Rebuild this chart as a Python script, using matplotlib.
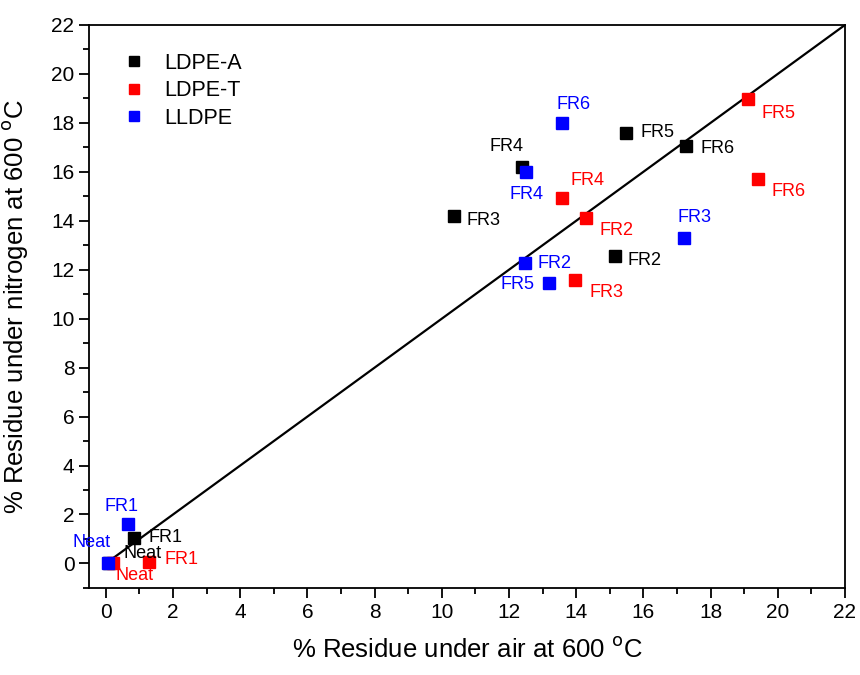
import matplotlib
matplotlib.use("Agg")
import matplotlib.pyplot as plt
from matplotlib.ticker import MultipleLocator

plt.rcParams['font.family'] = ['Liberation Sans', 'DejaVu Sans']

# % residue at 600 C: air (x) vs nitrogen (y)
labels = ["Neat", "FR1", "FR2", "FR3", "FR4", "FR5", "FR6"]

ldpe_a_air = [0.1, 0.85, 15.17, 10.37, 12.39, 15.47, 17.26]
ldpe_a_n2 = [0.0, 1.05, 12.56, 14.2, 16.2, 17.6, 17.07]

ldpe_t_air = [0.2, 1.28, 14.28, 13.97, 13.58, 19.1, 19.41]
ldpe_t_n2 = [0.0, 0.05, 14.1, 11.6, 14.92, 18.97, 15.7]

lldpe_air = [0.07, 0.66, 12.49, 17.2, 12.51, 13.2, 13.58]
lldpe_n2 = [0.0, 1.6, 12.26, 13.28, 16.0, 11.44, 18.01]

# label offsets in points (dx, dy), ha
off_a = [((24, 7), 'center'), ((10, 0), 'left'), ((9, -3), 'left'), ((9, -3), 'left'),
         ((-11, 15), 'center'), ((11, 0), 'left'), ((11, -2), 'left')]
off_t = [((16, -9), 'center'), ((11, 2), 'left'), ((10, -9), 'left'), ((10, -9), 'left'),
         ((18, 13), 'center'), ((10, -10), 'left'), ((10, -9), 'left')]
off_l = [((-12, 15), 'center'), ((-5, 13), 'center'), ((9, 0), 'left'), ((8, 15), 'center'),
         ((0, -16), 'center'), ((-11, -1), 'right'), ((8, 13), 'center')]

fig = plt.figure(figsize=(8.6, 6.75), dpi=100)
ax = fig.add_axes([0.1035, 0.129, 0.879, 0.834])

ax.plot([0, 22], [0, 22], color='black', lw=1.6, zorder=1)

series = [
    ("LDPE-A", ldpe_a_air, ldpe_a_n2, "black", off_a),
    ("LDPE-T", ldpe_t_air, ldpe_t_n2, "red", off_t),
    ("LLDPE", lldpe_air, lldpe_n2, "blue", off_l),
]
for i, (name, xs, ys, col, offs) in enumerate(series):
    ax.plot(xs, ys, 's', color=col, ms=8, ls='none', label=name, zorder=2 + i)
    for lab, x, y, (d, ha) in zip(labels, xs, ys, offs):
        ax.annotate(lab, (x, y), xytext=d, textcoords='offset points',
                    ha=ha, va='center', color=col, fontsize=13, zorder=5)

ax.set_xlim(-0.5, 22)
ax.set_ylim(-1, 22)
ax.xaxis.set_major_locator(MultipleLocator(2))
ax.xaxis.set_minor_locator(MultipleLocator(1))
ax.yaxis.set_major_locator(MultipleLocator(2))
ax.yaxis.set_minor_locator(MultipleLocator(1))
ax.tick_params(which='both', direction='out', width=1.3, labelsize=15)
ax.tick_params(which='major', length=7)
ax.tick_params(which='minor', length=4)
for s in ax.spines.values():
    s.set_linewidth(1.3)

ax.set_xlabel("% Residue under air at 600 $^{\\mathrm{o}}$C", fontsize=18.5)
ax.set_ylabel("% Residue under nitrogen at 600 $^{\\mathrm{o}}$C", fontsize=18.5)
ax.xaxis.set_label_coords(0.5, -0.087)
ax.yaxis.set_label_coords(-0.078, 0.5)

ax.legend(loc='upper left', bbox_to_anchor=(0.005, 0.985), frameon=False, fontsize=15.5,
          handletextpad=0.4, labelspacing=0.3, markerscale=0.85)

fig.savefig("out.png", dpi=100)
